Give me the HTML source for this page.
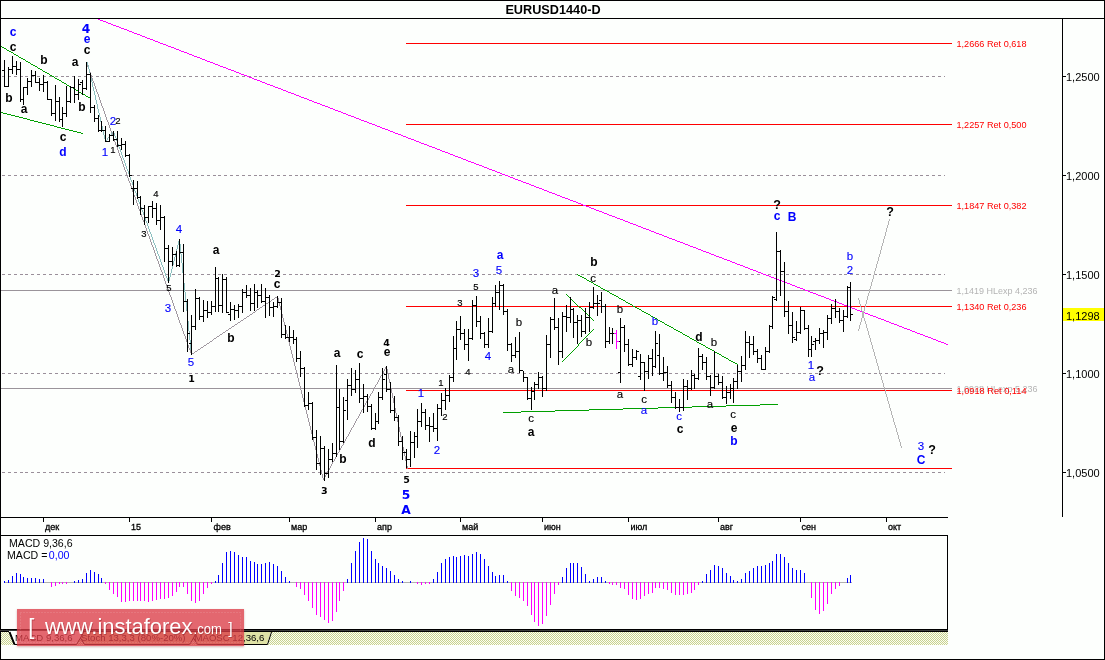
<!DOCTYPE html>
<html lang="ru"><head><meta charset="utf-8"><title>EURUSD1440-D</title>
<style>
html,body{margin:0;padding:0;background:#fdfffd;}
body{width:1105px;height:660px;overflow:hidden;position:relative;font-family:"Liberation Sans",sans-serif;}
svg{position:absolute;left:0;top:0;display:block}
text{font-family:"Liberation Sans",sans-serif;font-size:11px;fill:#000}
.bb{font-weight:bold;font-size:12px}
.bl{font-weight:bold;font-size:12px;fill:#0000ff}
.rl{fill:#0000ff;font-size:11.5px;stroke:#0000ff;stroke-width:0.12px}
.rb{font-size:11.5px;stroke:#000;stroke-width:0.12px}
.sb{font-size:9.5px;fill:#000;stroke:#000;stroke-width:0.15px}
.q{font-weight:bold;font-size:12.5px}
.nb{font-family:"DejaVu Sans","Liberation Sans",sans-serif;font-weight:bold;font-size:9.5px}
.vb{font-family:"DejaVu Sans","Liberation Sans",sans-serif;font-weight:bold;font-size:12.3px;fill:#0000ff}
.ax{font-size:11px}
text.w{fill:#fff;font-size:22px}
text.ws{fill:#8a1c28;fill-opacity:0.45;font-size:22px}
.fib{fill:#ff0000;font-size:9.5px}
.fibg{fill:#b4b4b4;font-size:9.5px}
.tm{font-size:9px;fill:#000;stroke:#000;stroke-width:0.3px}
.wm{position:absolute;left:17px;top:609px;width:227px;height:37px;background:rgba(219,60,70,0.78);box-shadow:0 1px 2px rgba(140,40,50,0.35);}
.wmt{position:absolute;left:17px;top:609px;width:227px;height:37px;color:#fff;white-space:nowrap;}
</style></head><body>
<svg width="1105" height="660" viewBox="0 0 1105 660" shape-rendering="crispEdges">
<rect x="0" y="0" width="1105" height="660" fill="#fdfffd"/>
<g stroke="#9a8f9a" stroke-width="1" stroke-dasharray="3 2.85" fill="none">
<path d="M2 76.5H945"/>
<path d="M2 175.5H945"/>
<path d="M2 274.5H945"/>
<path d="M2 373.5H945"/>
<path d="M2 472.5H945"/>
</g>
<rect x="1" y="290" width="951" height="1" fill="#9a949a"/>
<rect x="1" y="388" width="951" height="1" fill="#9a949a"/>
<rect x="406" y="43" width="546" height="1" fill="#ff0000"/>
<rect x="406" y="124" width="546" height="1" fill="#ff0000"/>
<rect x="406" y="205" width="546" height="1" fill="#ff0000"/>
<rect x="406" y="306" width="546" height="1" fill="#ff0000"/>
<rect x="406" y="390" width="546" height="1" fill="#ff0000"/>
<rect x="406" y="468" width="546" height="1" fill="#ff0000"/>
<path d="M96 18.5h2M98 19.5h2M100 20.5h3M103 21.5h3M106 22.5h2M108 23.5h3M111 24.5h2M113 25.5h3M116 26.5h3M119 27.5h2M121 28.5h3M124 29.5h3M127 30.5h2M129 31.5h3M132 32.5h2M134 33.5h3M137 34.5h3M140 35.5h2M142 36.5h3M145 37.5h2M147 38.5h3M150 39.5h3M153 40.5h2M155 41.5h3M158 42.5h2M160 43.5h3M163 44.5h3M166 45.5h2M168 46.5h3M171 47.5h3M174 48.5h2M176 49.5h3M179 50.5h2M181 51.5h3M184 52.5h3M187 53.5h2M189 54.5h3M192 55.5h2M194 56.5h3M197 57.5h3M200 58.5h2M202 59.5h3M205 60.5h2M207 61.5h3M210 62.5h3M213 63.5h2M215 64.5h3M218 65.5h2M220 66.5h3M223 67.5h3M226 68.5h2M228 69.5h3M231 70.5h3M234 71.5h2M236 72.5h3M239 73.5h2M241 74.5h3M244 75.5h3M247 76.5h2M249 77.5h3M252 78.5h2M254 79.5h3M257 80.5h3M260 81.5h2M262 82.5h3M265 83.5h2M267 84.5h3M270 85.5h3M273 86.5h2M275 87.5h3M278 88.5h3M281 89.5h2M283 90.5h3M286 91.5h2M288 92.5h3M291 93.5h3M294 94.5h2M296 95.5h3M299 96.5h2M301 97.5h3M304 98.5h3M307 99.5h2M309 100.5h3M312 101.5h2M314 102.5h3M317 103.5h3M320 104.5h2M322 105.5h3M325 106.5h3M328 107.5h2M330 108.5h3M333 109.5h2M335 110.5h3M338 111.5h3M341 112.5h2M343 113.5h3M346 114.5h2M348 115.5h3M351 116.5h3M354 117.5h2M356 118.5h3M359 119.5h2M361 120.5h3M364 121.5h3M367 122.5h2M369 123.5h3M372 124.5h3M375 125.5h2M377 126.5h3M380 127.5h2M382 128.5h3M385 129.5h3M388 130.5h2M390 131.5h3M393 132.5h2M395 133.5h3M398 134.5h3M401 135.5h2M403 136.5h3M406 137.5h2M408 138.5h3M411 139.5h3M414 140.5h2M416 141.5h3M419 142.5h2M421 143.5h3M424 144.5h3M427 145.5h2M429 146.5h3M432 147.5h3M435 148.5h2M437 149.5h3M440 150.5h2M442 151.5h3M445 152.5h3M448 153.5h2M450 154.5h3M453 155.5h2M455 156.5h3M458 157.5h3M461 158.5h2M463 159.5h3M466 160.5h2M468 161.5h3M471 162.5h3M474 163.5h2M476 164.5h3M479 165.5h3M482 166.5h2M484 167.5h3M487 168.5h2M489 169.5h3M492 170.5h3M495 171.5h2M497 172.5h3M500 173.5h2M502 174.5h3M505 175.5h3M508 176.5h2M510 177.5h3M513 178.5h2M515 179.5h3M518 180.5h3M521 181.5h2M523 182.5h3M526 183.5h3M529 184.5h2M531 185.5h3M534 186.5h2M536 187.5h3M539 188.5h3M542 189.5h2M544 190.5h3M547 191.5h2M549 192.5h3M552 193.5h3M555 194.5h2M557 195.5h3M560 196.5h2M562 197.5h3M565 198.5h3M568 199.5h2M570 200.5h3M573 201.5h3M576 202.5h2M578 203.5h3M581 204.5h2M583 205.5h3M586 206.5h3M589 207.5h2M591 208.5h3M594 209.5h2M596 210.5h3M599 211.5h3M602 212.5h2M604 213.5h3M607 214.5h2M609 215.5h3M612 216.5h3M615 217.5h2M617 218.5h3M620 219.5h3M623 220.5h2M625 221.5h3M628 222.5h2M630 223.5h3M633 224.5h3M636 225.5h2M638 226.5h3M641 227.5h2M643 228.5h3M646 229.5h3M649 230.5h2M651 231.5h3M654 232.5h2M656 233.5h3M659 234.5h3M662 235.5h2M664 236.5h3M667 237.5h2M669 238.5h3M672 239.5h3M675 240.5h2M677 241.5h3M680 242.5h3M683 243.5h2M685 244.5h3M688 245.5h2M690 246.5h3M693 247.5h3M696 248.5h2M698 249.5h3M701 250.5h2M703 251.5h3M706 252.5h3M709 253.5h2M711 254.5h3M714 255.5h2M716 256.5h3M719 257.5h3M722 258.5h2M724 259.5h3M727 260.5h3M730 261.5h2M732 262.5h3M735 263.5h2M737 264.5h3M740 265.5h3M743 266.5h2M745 267.5h3M748 268.5h2M750 269.5h3M753 270.5h3M756 271.5h2M758 272.5h3M761 273.5h2M763 274.5h3M766 275.5h3M769 276.5h2M771 277.5h3M774 278.5h3M777 279.5h2M779 280.5h3M782 281.5h2M784 282.5h3M787 283.5h3M790 284.5h2M792 285.5h3M795 286.5h2M797 287.5h3M800 288.5h3M803 289.5h2M805 290.5h3M808 291.5h2M810 292.5h3M813 293.5h3M816 294.5h2M818 295.5h3M821 296.5h3M824 297.5h2M826 298.5h3M829 299.5h2M831 300.5h3M834 301.5h3M837 302.5h2M839 303.5h3M842 304.5h2M844 305.5h3M847 306.5h3M850 307.5h2M852 308.5h3M855 309.5h2M857 310.5h3M860 311.5h3M863 312.5h2M865 313.5h3M868 314.5h2M870 315.5h3M873 316.5h3M876 317.5h2M878 318.5h3M881 319.5h3M884 320.5h2M886 321.5h3M889 322.5h2M891 323.5h3M894 324.5h3M897 325.5h2M899 326.5h3M902 327.5h2M904 328.5h3M907 329.5h3M910 330.5h2M912 331.5h3M915 332.5h2M917 333.5h3M920 334.5h3M923 335.5h2M925 336.5h3M928 337.5h3M931 338.5h2M933 339.5h3M936 340.5h2M938 341.5h3M941 342.5h3M944 343.5h2M946 344.5h2" stroke="#ff00ff" stroke-width="1" fill="none"/>
<path d="M1 46.5h1M2 47.5h2M4 48.5h2M6 49.5h1M7 50.5h2M9 51.5h2M11 52.5h2M13 53.5h1M14 54.5h2M16 55.5h2M18 56.5h1M19 57.5h2M21 58.5h2M23 59.5h2M25 60.5h1M26 61.5h2M28 62.5h2M30 63.5h1M31 64.5h2M33 65.5h2M35 66.5h2M37 67.5h1M38 68.5h2M40 69.5h2M42 70.5h1M43 71.5h2M45 72.5h2M47 73.5h2M49 74.5h1M50 75.5h2M52 76.5h2M54 77.5h1M55 78.5h2M57 79.5h2M59 80.5h2M61 81.5h1M62 82.5h2M64 83.5h2M66 84.5h1M67 85.5h2M69 86.5h2M71 87.5h2M73 88.5h1M74 89.5h2M76 90.5h2M78 91.5h1M79 92.5h2M81 93.5h2M83 94.5h2M85 95.5h1M86 96.5h2M88 97.5h2M90 98.5h1" stroke="#00a000" stroke-width="1" fill="none"/>
<path d="M1 112.5h2M3 113.5h4M7 114.5h4M11 115.5h4M15 116.5h4M19 117.5h4M23 118.5h4M27 119.5h3M30 120.5h4M34 121.5h4M38 122.5h4M42 123.5h4M46 124.5h4M50 125.5h4M54 126.5h3M57 127.5h4M61 128.5h4M65 129.5h4M69 130.5h4M73 131.5h4M77 132.5h4M81 133.5h2" stroke="#00a000" stroke-width="1" fill="none"/>
<path d="M577 274.5h1M578 275.5h2M580 276.5h2M582 277.5h2M584 278.5h2M586 279.5h1M587 280.5h2M589 281.5h2M591 282.5h2M593 283.5h1M594 284.5h2M596 285.5h2M598 286.5h2M600 287.5h1M601 288.5h2M603 289.5h2M605 290.5h2M607 291.5h2M609 292.5h1M610 293.5h2M612 294.5h2M614 295.5h2M616 296.5h2M618 297.5h1M619 298.5h2M621 299.5h2M623 300.5h2M625 301.5h1M626 302.5h2M628 303.5h2M630 304.5h2M632 305.5h1M633 306.5h2M635 307.5h2M637 308.5h2M639 309.5h2M641 310.5h1M642 311.5h2M644 312.5h2M646 313.5h2M648 314.5h2M650 315.5h1M651 316.5h2M653 317.5h2M655 318.5h2M657 319.5h1M658 320.5h2M660 321.5h2M662 322.5h2M664 323.5h1M665 324.5h2M667 325.5h2M669 326.5h2M671 327.5h2M673 328.5h1M674 329.5h2M676 330.5h2M678 331.5h2M680 332.5h2M682 333.5h1M683 334.5h2M685 335.5h2M687 336.5h2M689 337.5h1M690 338.5h2M692 339.5h2M694 340.5h2M696 341.5h1M697 342.5h2M699 343.5h2M701 344.5h2M703 345.5h2M705 346.5h1M706 347.5h2M708 348.5h2M710 349.5h2M712 350.5h2M714 351.5h1M715 352.5h2M717 353.5h2M719 354.5h2M721 355.5h1M722 356.5h2M724 357.5h2M726 358.5h2M728 359.5h1M729 360.5h2M731 361.5h2M733 362.5h2M735 363.5h2M737 364.5h1" stroke="#00a000" stroke-width="1" fill="none"/>
<path d="M566 294.5h1M567 295.5h1M568 296.5h1M569 297.5h1M570 298.5h1M571 299.5h1M572 300.5h1M573 301.5h1M574 302.5h1M575 303.5h1M576 304.5h1M577 305.5h1M578 306.5h1M579 307.5h2M581 308.5h1M582 309.5h1M583 310.5h1M584 311.5h1M585 312.5h1M586 313.5h1M587 314.5h1M588 315.5h1M589 316.5h1M590 317.5h1M591 318.5h1M592 319.5h1M593 320.5h1" stroke="#00a000" stroke-width="1" fill="none"/>
<path d="M593.5 329v1M592.5 330v1M591.5 331v1M590.5 332v1M589.5 333v1M588.5 334v1M587.5 335v1M586.5 336v1M585.5 337v1M584.5 338v1M583.5 339v1M582.5 340v1M581.5 341v1M580.5 342v1M579.5 343v1M578.5 344v2M577.5 346v1M576.5 347v1M575.5 348v1M574.5 349v1M573.5 350v1M572.5 351v1M571.5 352v1M570.5 353v1M569.5 354v1M568.5 355v1M567.5 356v1M566.5 357v1M565.5 358v1M564.5 359v1M563.5 360v1M562.5 361v1" stroke="#00a000" stroke-width="1" fill="none"/>
<path d="M503 412.5h18M521 411.5h34M555 410.5h34M589 409.5h34M623 408.5h35M658 407.5h34M692 406.5h34M726 405.5h34M760 404.5h18" stroke="#00a000" stroke-width="1" fill="none"/>
<path d="M86.5 62v2M87.5 64v3M88.5 67v2M89.5 69v3M90.5 72v3M91.5 75v3M92.5 78v3M93.5 81v2M94.5 83v3M95.5 86v3M96.5 89v3M97.5 92v2M98.5 94v3M99.5 97v3M100.5 100v3M101.5 103v3M102.5 106v2M103.5 108v3M104.5 111v3M105.5 114v3M106.5 117v3M107.5 120v2M108.5 122v3M109.5 125v3M110.5 128v3M111.5 131v2M112.5 133v3M113.5 136v3M114.5 139v3M115.5 142v3M116.5 145v2M117.5 147v3M118.5 150v3M119.5 153v3M120.5 156v2M121.5 158v3M122.5 161v3M123.5 164v3M124.5 167v3M125.5 170v2M126.5 172v3M127.5 175v3M128.5 178v3M129.5 181v2M130.5 183v3M131.5 186v3M132.5 189v3M133.5 192v3M134.5 195v2M135.5 197v3M136.5 200v3M137.5 203v3M138.5 206v3M139.5 209v2M140.5 211v3M141.5 214v3M142.5 217v3M143.5 220v2M144.5 222v3M145.5 225v3M146.5 228v3M147.5 231v3M148.5 234v2M149.5 236v3M150.5 239v3M151.5 242v3M152.5 245v2M153.5 247v3M154.5 250v3M155.5 253v3M156.5 256v3M157.5 259v2M158.5 261v3M159.5 264v3M160.5 267v3M161.5 270v2M162.5 272v3M163.5 275v3M164.5 278v3M165.5 281v3M166.5 284v2M167.5 286v3M168.5 289v3M169.5 292v3M170.5 295v2M171.5 297v3M172.5 300v3M173.5 303v3M174.5 306v3M175.5 309v2M176.5 311v3M177.5 314v3M178.5 317v3M179.5 320v3M180.5 323v2M181.5 325v3M182.5 328v3M183.5 331v3M184.5 334v2M185.5 336v3M186.5 339v3M187.5 342v3M188.5 345v3M189.5 348v2M190.5 350v3M191.5 353v2M191 354.5h1M192 353.5h2M194 352.5h1M195 351.5h2M197 350.5h1M198 349.5h2M200 348.5h1M201 347.5h2M203 346.5h1M204 345.5h2M206 344.5h1M207 343.5h2M209 342.5h1M210 341.5h2M212 340.5h1M213 339.5h1M214 338.5h2M216 337.5h1M217 336.5h2M219 335.5h1M220 334.5h2M222 333.5h1M223 332.5h2M225 331.5h1M226 330.5h2M228 329.5h1M229 328.5h2M231 327.5h1M232 326.5h2M234 325.5h1M235 324.5h2M237 323.5h1M238 322.5h2M240 321.5h1M241 320.5h2M243 319.5h1M244 318.5h2M246 317.5h1M247 316.5h2M249 315.5h1M250 314.5h2M252 313.5h1M253 312.5h2M255 311.5h1M256 310.5h1M257 309.5h2M259 308.5h1M260 307.5h2M262 306.5h1M263 305.5h2M265 304.5h1M266 303.5h2M268 302.5h1M269 301.5h2M271 300.5h1M272 299.5h2M274 298.5h1M275 297.5h2M277 296.5h1M277.5 296v2M278.5 298v4M279.5 302v4M280.5 306v4M281.5 310v4M282.5 314v4M283.5 318v4M284.5 322v4M285.5 326v4M286.5 330v4M287.5 334v4M288.5 338v4M289.5 342v4M290.5 346v4M291.5 350v4M292.5 354v4M293.5 358v4M294.5 362v4M295.5 366v4M296.5 370v4M297.5 374v4M298.5 378v4M299.5 382v4M300.5 386v4M301.5 390v4M302.5 394v4M303.5 398v4M304.5 402v4M305.5 406v4M306.5 410v4M307.5 414v4M308.5 418v4M309.5 422v4M310.5 426v4M311.5 430v4M312.5 434v4M313.5 438v4M314.5 442v4M315.5 446v4M316.5 450v4M317.5 454v4M318.5 458v4M319.5 462v4M320.5 466v4M321.5 470v4M322.5 474v4M323.5 478v2M386.5 366v1M385.5 367v2M384.5 369v2M383.5 371v2M382.5 373v2M381.5 375v1M380.5 376v2M379.5 378v2M378.5 380v2M377.5 382v2M376.5 384v1M375.5 385v2M374.5 387v2M373.5 389v2M372.5 391v2M371.5 393v1M370.5 394v2M369.5 396v2M368.5 398v2M367.5 400v1M366.5 401v2M365.5 403v2M364.5 405v2M363.5 407v2M362.5 409v1M361.5 410v2M360.5 412v2M359.5 414v2M358.5 416v2M357.5 418v1M356.5 419v2M355.5 421v2M354.5 423v2M353.5 425v2M352.5 427v1M351.5 428v2M350.5 430v2M349.5 432v2M348.5 434v2M347.5 436v1M346.5 437v2M345.5 439v2M344.5 441v2M343.5 443v2M342.5 445v1M341.5 446v2M340.5 448v2M339.5 450v2M338.5 452v1M337.5 453v2M336.5 455v2M335.5 457v2M334.5 459v2M333.5 461v1M332.5 462v2M331.5 464v2M330.5 466v2M329.5 468v2M328.5 470v1M327.5 471v2M326.5 473v2M325.5 475v2M324.5 477v2M323.5 479v1M386.5 366v3M387.5 369v5M388.5 374v5M389.5 379v4M390.5 383v5M391.5 388v5M392.5 393v5M393.5 398v5M394.5 403v5M395.5 408v5M396.5 413v5M397.5 418v4M398.5 422v5M399.5 427v5M400.5 432v5M401.5 437v5M402.5 442v5M403.5 447v4M404.5 451v5M405.5 456v5M406.5 461v5M407.5 466v3" stroke="#a098a0" stroke-width="1" fill="none"/>
<path d="M87.5 62v3M88.5 65v4M89.5 69v4M90.5 73v5M91.5 78v4M92.5 82v5M93.5 87v4M94.5 91v4M95.5 95v5M96.5 100v4M97.5 104v5M98.5 109v4M99.5 113v4M100.5 117v5M101.5 122v4M102.5 126v5M103.5 131v4M104.5 135v4M105.5 139v3M113.5 131v1M112.5 132v1M111.5 133v2M110.5 135v1M109.5 136v1M108.5 137v1M107.5 138v2M106.5 140v1M105.5 141v1M113.5 131v2M114.5 133v3M115.5 136v2M116.5 138v3M117.5 141v3M118.5 144v3M119.5 147v2M120.5 149v3M121.5 152v3M122.5 155v3M123.5 158v2M124.5 160v3M125.5 163v3M126.5 166v3M127.5 169v2M128.5 171v3M129.5 174v3M130.5 177v3M131.5 180v2M132.5 182v3M133.5 185v3M134.5 188v3M135.5 191v2M136.5 193v3M137.5 196v3M138.5 199v3M139.5 202v2M140.5 204v3M141.5 207v3M142.5 210v2M143.5 212v3M144.5 215v3M145.5 218v3M146.5 221v2M147.5 223v3M148.5 226v3M149.5 229v3M150.5 232v2M151.5 234v3M152.5 237v3M153.5 240v3M154.5 243v2M155.5 245v3M156.5 248v3M157.5 251v3M158.5 254v2M159.5 256v3M160.5 259v3M161.5 262v3M162.5 265v2M163.5 267v3M164.5 270v3M165.5 273v3M166.5 276v2M167.5 278v3M168.5 281v2M179.5 239v2M178.5 241v4M177.5 245v4M176.5 249v4M175.5 253v4M174.5 257v4M173.5 261v4M172.5 265v4M171.5 269v4M170.5 273v4M169.5 277v4M168.5 281v2M179.5 239v5M180.5 244v10M181.5 254v9M182.5 263v10M183.5 273v10M184.5 283v9M185.5 292v10M186.5 302v9M187.5 311v10M188.5 321v10M189.5 331v9M190.5 340v10M191.5 350v5" stroke="#8cc0c0" stroke-width="1" fill="none"/>
<path d="M889.5 219v2M888.5 221v4M887.5 225v3M886.5 228v4M885.5 232v4M884.5 236v3M883.5 239v4M882.5 243v3M881.5 246v4M880.5 250v4M879.5 254v3M878.5 257v4M877.5 261v3M876.5 264v4M875.5 268v3M874.5 271v4M873.5 275v4M872.5 279v3M871.5 282v4M870.5 286v3M869.5 289v4M868.5 293v3M867.5 296v4M866.5 300v4M865.5 304v3M864.5 307v4M863.5 311v3M862.5 314v4M861.5 318v4M860.5 322v3M859.5 325v4M858.5 329v2" stroke="#b4b4b4" stroke-width="1" fill="none"/>
<path d="M858.5 298v2M859.5 300v4M860.5 304v3M861.5 307v4M862.5 311v3M863.5 314v4M864.5 318v3M865.5 321v3M866.5 324v4M867.5 328v3M868.5 331v4M869.5 335v3M870.5 338v4M871.5 342v3M872.5 345v4M873.5 349v3M874.5 352v4M875.5 356v3M876.5 359v4M877.5 363v3M878.5 366v4M879.5 370v3M880.5 373v3M881.5 376v4M882.5 380v3M883.5 383v4M884.5 387v3M885.5 390v4M886.5 394v3M887.5 397v4M888.5 401v3M889.5 404v4M890.5 408v3M891.5 411v4M892.5 415v3M893.5 418v4M894.5 422v3M895.5 425v3M896.5 428v4M897.5 432v3M898.5 435v4M899.5 439v3M900.5 442v4M901.5 446v2" stroke="#b4b4b4" stroke-width="1" fill="none"/>
<path d="M4.5 60V87M2 70.5h2M5 86.5h2M8.5 67V87M6 86.5h2M9 69.5h2M12.5 56V74M10 69.5h2M13 66.5h2M16.5 61V75M14 66.5h2M17 69.5h2M20.5 62V102M18 69.5h2M21 99.5h2M23.5 87V105M21 99.5h2M24 87.5h2M27.5 78V95M25 87.5h2M28 81.5h2M31.5 70V87M29 81.5h2M32 75.5h2M35.5 71V83M33 75.5h2M36 82.5h2M39.5 78V91M37 82.5h2M40 84.5h2M43.5 75V92M41 84.5h2M44 82.5h2M47.5 81V100M45 82.5h2M48 99.5h2M51.5 99V116M49 99.5h2M52 113.5h2M55.5 85V121M53 113.5h2M56 101.5h2M59.5 97V122M57 101.5h2M60 119.5h2M62.5 107V127M60 119.5h2M63 113.5h2M66.5 86V117M64 113.5h2M67 101.5h2M70.5 86V103M68 101.5h2M71 87.5h2M74.5 76V103M72 87.5h2M75 94.5h2M78.5 79V100M76 94.5h2M79 84.5h2M82.5 80V95M80 82.5h2M83 88.5h2M86.5 62V90M84 88.5h2M87 74.5h2M90.5 73V113M88 74.5h2M91 107.5h2M94.5 105V122M92 107.5h2M95 118.5h2M98.5 115V132M96 118.5h2M99 130.5h2M101.5 121V132M99 130.5h2M102 130.5h2M105.5 126V142M103 130.5h2M106 141.5h2M109.5 134V142M107 141.5h2M110 135.5h2M113.5 131V141M111 135.5h2M114 139.5h2M117.5 131V147M115 139.5h2M118 145.5h2M121.5 138V150M119 145.5h2M122 144.5h2M125.5 141V157M123 144.5h2M126 155.5h2M129.5 154V177M127 155.5h2M130 175.5h2M133.5 180V205M131 188.5h2M134 188.5h2M137.5 181V199M135 188.5h2M138 197.5h2M140.5 196V215M138 197.5h2M141 208.5h2M144.5 205V225M142 208.5h2M145 217.5h2M148.5 206V223M146 217.5h2M149 206.5h2M152.5 201V218M150 206.5h2M153 208.5h2M156.5 203V225M154 208.5h2M157 220.5h2M160.5 205V230M158 220.5h2M161 217.5h2M164.5 216V262M162 217.5h2M165 248.5h2M168.5 245V283M166 248.5h2M169 261.5h2M172.5 247V266M170 261.5h2M173 254.5h2M176.5 251V267M174 254.5h2M177 265.5h2M179.5 239V267M177 265.5h2M180 252.5h2M183.5 244V312M181 252.5h2M184 301.5h2M187.5 299V352M185 301.5h2M188 333.5h2M191.5 315V355M189 343.5h2M192 326.5h2M195.5 289V330M193 326.5h2M196 298.5h2M199.5 297V320M197 298.5h2M200 316.5h2M203.5 300V322M201 316.5h2M204 310.5h2M207.5 301V318M205 310.5h2M208 312.5h2M211.5 301V315M209 312.5h2M212 306.5h2M215.5 267V312M213 306.5h2M216 278.5h2M218.5 277V312M216 278.5h2M219 305.5h2M222.5 274V313M220 305.5h2M223 279.5h2M226.5 277V313M224 279.5h2M227 312.5h2M230.5 302V321M228 314.5h2M231 309.5h2M234.5 305V320M232 309.5h2M235 310.5h2M238.5 304V318M236 310.5h2M239 306.5h2M242.5 289V313M240 306.5h2M243 292.5h2M246.5 285V298M244 292.5h2M247 295.5h2M250.5 288V311M248 295.5h2M251 303.5h2M254.5 284V311M252 303.5h2M255 292.5h2M257.5 290V308M255 292.5h2M258 295.5h2M261.5 284V303M259 295.5h2M262 301.5h2M265.5 288V318M263 301.5h2M266 297.5h2M269.5 295V316M267 297.5h2M270 307.5h2M273.5 302V317M271 307.5h2M274 306.5h2M277.5 296V308M275 306.5h2M278 302.5h2M281.5 298V338M279 302.5h2M282 334.5h2M285.5 325V339M283 334.5h2M286 337.5h2M289.5 326V342M287 337.5h2M290 337.5h2M293.5 330V344M291 337.5h2M294 339.5h2M296.5 337V362M294 339.5h2M297 358.5h2M300.5 351V377M298 358.5h2M301 368.5h2M304.5 367V407M302 368.5h2M305 405.5h2M308.5 392V410M306 405.5h2M309 403.5h2M312.5 402V440M310 403.5h2M313 437.5h2M316.5 430V470M314 437.5h2M317 463.5h2M320.5 436V475M318 463.5h2M321 448.5h2M324.5 446V481M322 448.5h2M325 473.5h2M328.5 449V478M326 473.5h2M329 459.5h2M332.5 443V462M330 459.5h2M333 453.5h2M336.5 365V457M334 453.5h2M337 407.5h2M339.5 389V450M337 407.5h2M340 441.5h2M343.5 397V443M341 441.5h2M344 410.5h2M347.5 379V420M345 400.5h2M348 385.5h2M351.5 368V396M349 385.5h2M352 389.5h2M355.5 370V393M353 389.5h2M356 379.5h2M359.5 363V403M357 379.5h2M360 398.5h2M363.5 384V413M361 398.5h2M364 396.5h2M367.5 394V412M365 396.5h2M368 406.5h2M371.5 404V430M369 406.5h2M372 428.5h2M375.5 413V430M373 428.5h2M376 421.5h2M378.5 392V424M376 421.5h2M379 397.5h2M382.5 368V400M380 397.5h2M383 379.5h2M386.5 366V392M384 374.5h2M387 389.5h2M390.5 382V413M388 389.5h2M391 410.5h2M394.5 396V421M392 410.5h2M395 417.5h2M398.5 415V446M396 417.5h2M399 441.5h2M402.5 436V460M400 441.5h2M403 452.5h2M406.5 449V468M404 452.5h2M407 459.5h2M410.5 431V467M408 459.5h2M411 442.5h2M414.5 432V458M412 442.5h2M415 436.5h2M417.5 409V448M415 436.5h2M418 421.5h2M421.5 403V427M419 421.5h2M422 412.5h2M425.5 409V430M423 412.5h2M426 425.5h2M429.5 417V442M427 425.5h2M430 426.5h2M433.5 413V432M431 426.5h2M434 428.5h2M437.5 404V441M435 428.5h2M438 408.5h2M441.5 393V416M439 408.5h2M442 400.5h2M445.5 388V410M443 400.5h2M446 395.5h2M449.5 375V402M447 395.5h2M450 377.5h2M453.5 336V382M451 377.5h2M454 348.5h2M456.5 321V360M454 348.5h2M457 329.5h2M460.5 316V340M458 329.5h2M461 333.5h2M464.5 329V350M462 333.5h2M465 344.5h2M468.5 329V361M466 344.5h2M469 338.5h2M472.5 300V340M470 338.5h2M473 305.5h2M476.5 296V327M474 305.5h2M477 321.5h2M480.5 316V339M478 321.5h2M481 333.5h2M484.5 332V348M482 333.5h2M485 344.5h2M488.5 318V348M486 344.5h2M489 331.5h2M492.5 297V333M490 331.5h2M493 303.5h2M495.5 285V307M493 303.5h2M496 292.5h2M499.5 281V310M497 292.5h2M500 285.5h2M503.5 284V315M501 285.5h2M504 311.5h2M507.5 309V351M505 311.5h2M508 344.5h2M511.5 343V362M509 344.5h2M512 355.5h2M515.5 337V358M513 355.5h2M516 351.5h2M519.5 332V373M517 351.5h2M520 370.5h2M523.5 371V382M521 370.5h2M524 377.5h2M527.5 377V400M525 377.5h2M528 398.5h2M531.5 387V410M529 398.5h2M532 391.5h2M534.5 382V400M532 391.5h2M535 384.5h2M538.5 372V389M536 384.5h2M539 377.5h2M542.5 376V397M540 377.5h2M543 388.5h2M546.5 335V391M544 388.5h2M547 344.5h2M550.5 317V358M548 344.5h2M551 319.5h2M554.5 298V330M552 319.5h2M555 327.5h2M558.5 318V365M556 327.5h2M559 351.5h2M562.5 312V358M560 351.5h2M563 316.5h2M566.5 305V332M564 316.5h2M567 317.5h2M570.5 297V323M568 317.5h2M571 309.5h2M573.5 308V338M571 309.5h2M574 322.5h2M577.5 315V344M575 322.5h2M578 320.5h2M581.5 315V337M579 320.5h2M582 331.5h2M585.5 308V334M583 331.5h2M586 317.5h2M589.5 302V332M587 317.5h2M590 307.5h2M593.5 287V309M591 307.5h2M594 303.5h2M597.5 295V316M595 303.5h2M598 303.5h2M601.5 292V313M599 300.5h2M602 306.5h2M605.5 304V348M603 306.5h2M606 341.5h2M609.5 327V344M607 341.5h2M610 333.5h2M612.5 328V344M610 333.5h2M613 333.5h2M620.5 318V383M618 341.5h2M621 327.5h2M624.5 325V352M622 327.5h2M625 344.5h2M628.5 339V366M626 344.5h2M629 364.5h2M632.5 349V367M630 364.5h2M633 357.5h2M636.5 350V360M634 357.5h2M637 351.5h2M640.5 354V380M638 376.5h2M641 362.5h2M644.5 362V391M642 362.5h2M645 371.5h2M648.5 355V379M646 371.5h2M649 358.5h2M652.5 349V376M650 358.5h2M653 366.5h2M655.5 331V368M653 366.5h2M656 343.5h2M659.5 334V375M657 355.5h2M660 373.5h2M663.5 357V381M661 373.5h2M664 372.5h2M667.5 366V388M665 372.5h2M668 385.5h2M671.5 381V403M669 385.5h2M672 397.5h2M675.5 392V409M673 397.5h2M676 407.5h2M679.5 399V412M677 407.5h2M680 407.5h2M683.5 379V411M681 407.5h2M684 386.5h2M687.5 380V400M685 386.5h2M688 388.5h2M691.5 370V390M689 388.5h2M692 375.5h2M694.5 374V389M692 375.5h2M695 378.5h2M698.5 348V380M696 378.5h2M699 356.5h2M702.5 354V370M700 356.5h2M703 362.5h2M706.5 357V380M704 362.5h2M707 376.5h2M710.5 375V396M708 376.5h2M711 387.5h2M714.5 351V389M712 387.5h2M715 376.5h2M718.5 374V385M716 376.5h2M719 382.5h2M722.5 376V399M720 382.5h2M723 397.5h2M726.5 386V404M724 397.5h2M727 392.5h2M730.5 384V399M728 392.5h2M731 388.5h2M733.5 378V403M731 388.5h2M734 381.5h2M737.5 365V389M735 381.5h2M738 371.5h2M741.5 356V382M739 371.5h2M742 365.5h2M745.5 331V370M743 365.5h2M746 342.5h2M749.5 336V358M747 342.5h2M750 344.5h2M753.5 336V355M751 344.5h2M754 351.5h2M757.5 349V363M755 351.5h2M758 358.5h2M761.5 355V370M759 358.5h2M762 369.5h2M765.5 347V370M763 369.5h2M766 351.5h2M769.5 325V353M767 351.5h2M770 326.5h2M772.5 296V329M770 326.5h2M773 297.5h2M776.5 232V301M774 299.5h2M777 251.5h2M780.5 250V296M778 251.5h2M781 271.5h2M784.5 262V317M782 271.5h2M785 311.5h2M788.5 301V334M786 311.5h2M789 325.5h2M792.5 312V343M790 325.5h2M793 337.5h2M796.5 321V341M794 339.5h2M797 332.5h2M800.5 307V334M798 332.5h2M801 310.5h2M804.5 310V330M802 310.5h2M805 328.5h2M808.5 325V357M806 328.5h2M809 349.5h2M811.5 336V357M809 349.5h2M812 344.5h2M815.5 338V350M813 341.5h2M816 340.5h2M819.5 328V344M817 340.5h2M820 333.5h2M823.5 330V348M821 333.5h2M824 332.5h2M827.5 315V340M825 332.5h2M828 318.5h2M831.5 304V324M829 318.5h2M832 308.5h2M835.5 299V318M833 308.5h2M836 311.5h2M839.5 308V323M837 311.5h2M840 320.5h2M843.5 310V332M841 320.5h2M844 316.5h2M847.5 286V318M845 316.5h2M848 287.5h2M850.5 282V321M848 287.5h2M851 314.5h2" stroke="#000" stroke-width="1" fill="none"/>
<path d="M616.5 330V349M614 333.5h2M617 341.5h2" stroke="#ff00ff" stroke-width="1" fill="none"/>
<path d="M618 372.5h2" stroke="#000" stroke-width="1" fill="none"/>
<rect x="0" y="0" width="1105" height="1" fill="#000"/>
<rect x="0" y="18" width="1105" height="1" fill="#000"/>
<rect x="0" y="659" width="1105" height="1" fill="#000"/>
<rect x="0" y="0" width="1" height="660" fill="#000"/>
<rect x="1104" y="0" width="1" height="660" fill="#000"/>
<rect x="1062" y="18" width="1" height="499" fill="#000"/>
<rect x="0" y="517" width="948" height="1" fill="#000"/>
<rect x="0" y="535" width="948" height="1" fill="#000"/>
<rect x="947" y="535" width="1" height="97" fill="#000"/>
<rect x="0" y="629" width="948" height="1" fill="#000"/>
<rect x="0" y="630" width="948" height="1" fill="#3a3a3a"/>
<rect x="0" y="631" width="948" height="1" fill="#000"/>
<rect x="1063" y="76" width="3" height="1" fill="#000"/>
<rect x="1063" y="175" width="3" height="1" fill="#000"/>
<rect x="1063" y="274" width="3" height="1" fill="#000"/>
<rect x="1063" y="373" width="3" height="1" fill="#000"/>
<rect x="1063" y="472" width="3" height="1" fill="#000"/>
<rect x="43" y="518" width="1" height="4" fill="#000"/>
<rect x="129" y="518" width="1" height="4" fill="#000"/>
<rect x="211" y="518" width="1" height="4" fill="#000"/>
<rect x="289" y="518" width="1" height="4" fill="#000"/>
<rect x="375" y="518" width="1" height="4" fill="#000"/>
<rect x="460" y="518" width="1" height="4" fill="#000"/>
<rect x="542" y="518" width="1" height="4" fill="#000"/>
<rect x="628" y="518" width="1" height="4" fill="#000"/>
<rect x="718" y="518" width="1" height="4" fill="#000"/>
<rect x="800" y="518" width="1" height="4" fill="#000"/>
<rect x="886" y="518" width="1" height="4" fill="#000"/>
<rect x="1063" y="308" width="41" height="13" fill="#ffff00"/>
<rect x="4" y="582" width="848" height="1" fill="#b0b0b0"/>
<path d="M4.5 581V583M8.5 580V583M12.5 576V583M16.5 573V583M20.5 574V583M23.5 577V583M27.5 578V583M31.5 578V583M35.5 578V583M39.5 579V583M43.5 579V583M74.5 581V583M78.5 580V583M82.5 579V583M86.5 573V583M90.5 570V583M94.5 572V583M98.5 574V583M101.5 578V583M215.5 581V583M218.5 575V583M222.5 563V583M226.5 552V583M230.5 551V583M234.5 552V583M238.5 555V583M242.5 557V583M246.5 557V583M250.5 561V583M254.5 562V583M257.5 564V583M261.5 564V583M265.5 563V583M269.5 562V583M273.5 564V583M277.5 566V583M281.5 571V583M285.5 577V583M289.5 581V583M347.5 579V583M351.5 563V583M355.5 551V583M359.5 542V583M363.5 538V583M367.5 539V583M371.5 551V583M375.5 559V583M378.5 563V583M382.5 566V583M386.5 568V583M390.5 571V583M394.5 575V583M398.5 579V583M402.5 581V583M410.5 581V583M433.5 579V583M437.5 572V583M441.5 563V583M445.5 559V583M449.5 557V583M453.5 556V583M456.5 557V583M460.5 556V583M464.5 555V583M468.5 556V583M472.5 554V583M476.5 552V583M480.5 554V583M484.5 559V583M488.5 566V583M492.5 572V583M495.5 576V583M499.5 575V583M503.5 575V583M507.5 581V583M562.5 577V583M566.5 568V583M570.5 563V583M573.5 563V583M577.5 563V583M581.5 567V583M585.5 574V583M589.5 581V583M593.5 579V583M597.5 577V583M601.5 577V583M605.5 581V583M702.5 581V583M706.5 574V583M710.5 570V583M714.5 565V583M718.5 566V583M722.5 568V583M726.5 573V583M730.5 576V583M733.5 580V583M737.5 581V583M741.5 579V583M745.5 573V583M749.5 571V583M753.5 568V583M757.5 566V583M761.5 566V583M765.5 565V583M769.5 563V583M772.5 561V583M776.5 554V583M780.5 554V583M784.5 557V583M788.5 563V583M792.5 568V583M796.5 570V583M800.5 570V583M804.5 573V583M847.5 578V583M850.5 575V583" stroke="#0000ff" stroke-width="1" fill="none"/>
<path d="M51.5 582V587M55.5 582V586M59.5 582V584M62.5 582V584M66.5 582V584M105.5 582V584M109.5 582V590M113.5 582V594M117.5 582V597M121.5 582V602M125.5 582V602M129.5 582V601M133.5 582V601M137.5 582V601M140.5 582V601M144.5 582V601M148.5 582V602M152.5 582V601M156.5 582V600M160.5 582V599M164.5 582V599M168.5 582V598M172.5 582V596M176.5 582V592M179.5 582V587M183.5 582V587M187.5 582V594M191.5 582V601M195.5 582V603M199.5 582V601M203.5 582V594M207.5 582V588M211.5 582V584M296.5 582V587M300.5 582V589M304.5 582V595M308.5 582V601M312.5 582V608M316.5 582V615M320.5 582V617M324.5 582V620M328.5 582V623M332.5 582V621M336.5 582V612M339.5 582V601M343.5 582V591M417.5 582V584M421.5 582V585M425.5 582V584M429.5 582V584M511.5 582V591M515.5 582V596M519.5 582V598M523.5 582V601M527.5 582V606M531.5 582V615M534.5 582V622M538.5 582V626M542.5 582V624M546.5 582V616M550.5 582V605M554.5 582V594M558.5 582V585M609.5 582V584M612.5 582V585M616.5 582V585M620.5 582V588M624.5 582V589M628.5 582V595M632.5 582V599M636.5 582V600M640.5 582V599M644.5 582V596M648.5 582V594M652.5 582V593M655.5 582V588M659.5 582V588M663.5 582V589M667.5 582V590M671.5 582V593M675.5 582V595M679.5 582V595M683.5 582V595M687.5 582V594M691.5 582V593M694.5 582V590M698.5 582V585M811.5 582V598M815.5 582V610M819.5 582V614M823.5 582V611M827.5 582V604M831.5 582V594M835.5 582V589M839.5 582V586" stroke="#ff00ff" stroke-width="1" fill="none"/>
<defs><pattern id="dz" width="2" height="2" patternUnits="userSpaceOnUse"><rect width="2" height="2" fill="#fbfdf4"/><rect width="1" height="1" fill="#c8d28e"/><rect x="1" y="1" width="1" height="1" fill="#c8d28e"/></pattern></defs>
<rect x="1" y="632" width="947" height="13" fill="url(#dz)"/>
<path d="M77 632L80 638L84 644H189L193 638L197 644H267L271 632Z" fill="#dfe2a6"/>
<path d="M9 631L14 644H76L80 638L83 631Z" fill="#fdfffd"/>
<path d="M9.5 632L14.5 644.5H76.5L80.5 638L84.5 644.5H189.5L193.5 638L197.5 644.5H267.5L271.5 632M80.5 638L83.5 632M193.5 638L196.5 632" fill="none" stroke="#000" stroke-width="1" shape-rendering="auto"/>
<path d="M9.5 632L14.5 644.5" fill="none" stroke="#000" stroke-width="2" shape-rendering="auto"/>
</svg>
<svg width="1105" height="660" viewBox="0 0 1105 660">
<text x="553" y="14" text-anchor="middle" style="font-weight:bold;font-size:12.7px">EURUSD1440-D</text>
<text x="1066" y="81" class="ax" text-anchor="start">1,2500</text>
<text x="1066" y="180" class="ax" text-anchor="start">1,2000</text>
<text x="1066" y="279" class="ax" text-anchor="start">1,1500</text>
<text x="1066" y="378" class="ax" text-anchor="start">1,1000</text>
<text x="1066" y="477" class="ax" text-anchor="start">1,0500</text>
<text x="1066" y="319.5" class="ax" text-anchor="start">1,1298</text>
<text x="956.5" y="46.5" class="fib" text-anchor="start" textLength="70" lengthAdjust="spacingAndGlyphs">1,2666 Ret 0,618</text>
<text x="956.5" y="127.5" class="fib" text-anchor="start" textLength="70" lengthAdjust="spacingAndGlyphs">1,2257 Ret 0,500</text>
<text x="956.5" y="208.5" class="fib" text-anchor="start" textLength="70" lengthAdjust="spacingAndGlyphs">1,1847 Ret 0,382</text>
<text x="956.5" y="309.5" class="fib" text-anchor="start" textLength="70" lengthAdjust="spacingAndGlyphs">1,1340 Ret 0,236</text>
<text x="956.5" y="293.5" class="fibg" text-anchor="start" textLength="81" lengthAdjust="spacingAndGlyphs">1,1419 HLexp 4,236</text>
<text x="956.5" y="391.5" class="fibg" text-anchor="start" textLength="81" lengthAdjust="spacingAndGlyphs">1,0928 HLexp 5,236</text>
<text x="956.5" y="393.5" class="fib" text-anchor="start" textLength="70" lengthAdjust="spacingAndGlyphs">1,0918 Ret 0,114</text>
<text x="45" y="530" class="tm" text-anchor="start">дек</text>
<text x="131" y="530" class="tm" text-anchor="start">15</text>
<text x="213.5" y="530" class="tm" text-anchor="start">фев</text>
<text x="291" y="530" class="tm" text-anchor="start">мар</text>
<text x="377" y="530" class="tm" text-anchor="start">апр</text>
<text x="462" y="530" class="tm" text-anchor="start">май</text>
<text x="544" y="530" class="tm" text-anchor="start">июн</text>
<text x="630.5" y="530" class="tm" text-anchor="start">июл</text>
<text x="720" y="530" class="tm" text-anchor="start">авг</text>
<text x="801.5" y="530" class="tm" text-anchor="start">сен</text>
<text x="888" y="530" class="tm" text-anchor="start">окт</text>
<text x="9" y="547" style="font-size:10.6px">MACD 9,36,6</text>
<text x="7" y="559" style="font-size:10.6px">MACD =<tspan x="48.8" fill="#0000ff">0,00</tspan></text>
<text x="15" y="640.8" style="font-size:9.6px">MACD 9,36,6</text>
<text x="81" y="640.8" style="font-size:9.6px">Stoch 13,3,3 (80%-20%)</text>
<text x="194.5" y="640.8" style="font-size:9.6px">MAOSC 12,36,6</text>
<text x="13" y="36.0" class="bl" text-anchor="middle">c</text>
<text x="13" y="51.0" class="bb" text-anchor="middle">c</text>
<text x="44" y="64.3" class="bb" text-anchor="middle">b</text>
<text x="75" y="66.0" class="bb" text-anchor="middle">a</text>
<text x="87" y="43.2" class="bl" text-anchor="middle">e</text>
<text x="86" y="32.8" class="vb" text-anchor="middle">4</text>
<text x="87" y="54.0" class="bb" text-anchor="middle">c</text>
<text x="9" y="102.3" class="bb" text-anchor="middle">b</text>
<text x="24" y="113.0" class="bb" text-anchor="middle">a</text>
<text x="82" y="111.3" class="bb" text-anchor="middle">b</text>
<text x="63" y="141.0" class="bb" text-anchor="middle">c</text>
<text x="63" y="156.3" class="bl" text-anchor="middle">d</text>
<text x="113" y="125.0" class="rl" text-anchor="middle">2</text>
<text x="118" y="124.4" class="sb" text-anchor="middle">2</text>
<text x="105" y="156.0" class="rl" text-anchor="middle">1</text>
<text x="113" y="153.4" class="sb" text-anchor="middle">1</text>
<text x="156" y="197.4" class="sb" text-anchor="middle">4</text>
<text x="144" y="237.4" class="sb" text-anchor="middle">3</text>
<text x="179" y="233.0" class="rl" text-anchor="middle">4</text>
<text x="216" y="254.0" class="bb" text-anchor="middle">a</text>
<text x="169" y="291.4" class="sb" text-anchor="middle">5</text>
<text x="168" y="312.0" class="rl" text-anchor="middle">3</text>
<text x="277.5" y="277.0" class="nb" text-anchor="middle">2</text>
<text x="277" y="288.0" class="bb" text-anchor="middle">c</text>
<text x="231" y="342.3" class="bb" text-anchor="middle">b</text>
<text x="191" y="366.0" class="rl" text-anchor="middle">5</text>
<text x="191.5" y="381.5" class="nb" text-anchor="middle">1</text>
<text x="337" y="357.0" class="bb" text-anchor="middle">a</text>
<text x="360" y="358.0" class="bb" text-anchor="middle">c</text>
<text x="386.5" y="345.5" class="nb" text-anchor="middle">4</text>
<text x="387" y="356.0" class="bb" text-anchor="middle">e</text>
<text x="372" y="447.3" class="bb" text-anchor="middle">d</text>
<text x="343" y="463.3" class="bb" text-anchor="middle">b</text>
<text x="324.3" y="493.9" class="nb" text-anchor="middle">3</text>
<text x="406.5" y="482.9" class="nb" text-anchor="middle">5</text>
<text x="406" y="499.0" class="vb" text-anchor="middle">5</text>
<text x="406" y="514.0" class="vb" text-anchor="middle">A</text>
<text x="421" y="397.0" class="rl" text-anchor="middle">1</text>
<text x="441" y="386.4" class="sb" text-anchor="middle">1</text>
<text x="445" y="420.4" class="sb" text-anchor="middle">2</text>
<text x="437" y="454.0" class="rl" text-anchor="middle">2</text>
<text x="468" y="375.4" class="sb" text-anchor="middle">4</text>
<text x="488" y="360.0" class="rl" text-anchor="middle">4</text>
<text x="511" y="373.0" class="rb" text-anchor="middle">a</text>
<text x="531" y="422.0" class="rb" text-anchor="middle">c</text>
<text x="531" y="436.0" class="bb" text-anchor="middle">a</text>
<text x="500" y="259.0" class="bl" text-anchor="middle">a</text>
<text x="499" y="274.0" class="rl" text-anchor="middle">5</text>
<text x="476" y="277.0" class="rl" text-anchor="middle">3</text>
<text x="476" y="290.4" class="sb" text-anchor="middle">5</text>
<text x="460" y="306.4" class="sb" text-anchor="middle">3</text>
<text x="519" y="326.0" class="rb" text-anchor="middle">b</text>
<text x="594" y="266.3" class="bb" text-anchor="middle">b</text>
<text x="555" y="294.0" class="rb" text-anchor="middle">a</text>
<text x="593" y="282.0" class="rb" text-anchor="middle">c</text>
<text x="620" y="313.0" class="rb" text-anchor="middle">b</text>
<text x="589" y="346.0" class="rb" text-anchor="middle">b</text>
<text x="655" y="325.0" class="rl" text-anchor="middle">b</text>
<text x="620" y="398.0" class="rb" text-anchor="middle">a</text>
<text x="644" y="403.0" class="rb" text-anchor="middle">c</text>
<text x="644" y="414.0" class="rl" text-anchor="middle">a</text>
<text x="679" y="420.0" class="rl" text-anchor="middle">c</text>
<text x="680" y="433.0" class="bb" text-anchor="middle">c</text>
<text x="710" y="408.0" class="rb" text-anchor="middle">a</text>
<text x="733" y="418.0" class="rb" text-anchor="middle">c</text>
<text x="734" y="432.0" class="bb" text-anchor="middle">e</text>
<text x="734" y="445.3" class="bl" text-anchor="middle">b</text>
<text x="699" y="341.3" class="bb" text-anchor="middle">d</text>
<text x="714" y="346.0" class="rb" text-anchor="middle">b</text>
<text x="777" y="208.5" class="q" text-anchor="middle">?</text>
<text x="777" y="220.0" class="bl" text-anchor="middle">c</text>
<text x="792" y="221.3" class="bl" text-anchor="middle">B</text>
<text x="890" y="215.5" class="q" text-anchor="middle">?</text>
<text x="850" y="260.0" class="rl" text-anchor="middle">b</text>
<text x="850" y="274.0" class="rl" text-anchor="middle">2</text>
<text x="811" y="369.0" class="rl" text-anchor="middle">1</text>
<text x="812" y="381.0" class="rl" text-anchor="middle">a</text>
<text x="820" y="374.5" class="q" text-anchor="middle">?</text>
<text x="921" y="450.0" class="rl" text-anchor="middle">3</text>
<text x="932" y="453.5" class="q" text-anchor="middle">?</text>
<text x="921" y="464.3" class="bl" text-anchor="middle">C</text>
</svg>
<div class="wm"></div>
<svg width="1105" height="660" viewBox="0 0 1105 660"><rect x="20.5" y="612.5" width="220" height="30" fill="none" stroke="#fff" stroke-opacity="0.22" stroke-dasharray="1 2"/><text class="ws" x="29.1" y="634.8">[</text><text class="ws" x="45.8" y="634.8" textLength="147.5" lengthAdjust="spacingAndGlyphs">www.instaforex</text><text class="ws" x="194.3" y="634.8" style="font-size:14.5px" textLength="28.5" lengthAdjust="spacingAndGlyphs">.com</text><text class="ws" x="229.10000000000002" y="634.8" style="font-size:16px">]</text><text class="w" x="28.3" y="634">[</text><text class="w" x="45" y="634" textLength="147.5" lengthAdjust="spacingAndGlyphs">www.instaforex</text><text class="w" x="193.5" y="634" style="font-size:14.5px" textLength="28.5" lengthAdjust="spacingAndGlyphs">.com</text><text class="w" x="228.3" y="634" style="font-size:16px">]</text></svg>
</body></html>
